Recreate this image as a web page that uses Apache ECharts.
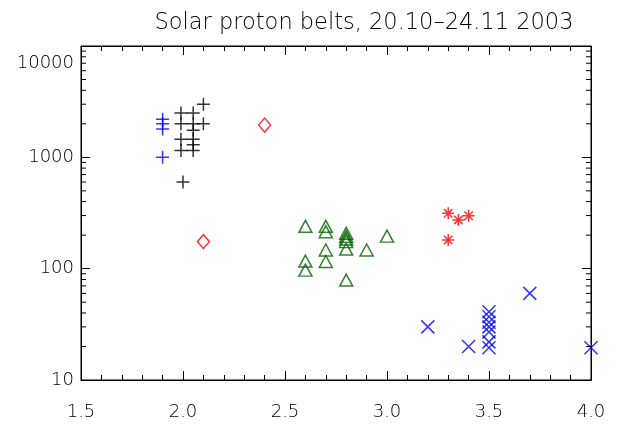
<!DOCTYPE html>
<html>
<head>
<meta charset="utf-8">
<script src="https://cdn.jsdelivr.net/npm/echarts@6/dist/echarts.min.js"></script>
<style>
  html, body { margin: 0; padding: 0; background: #fff; }
  #chart { width: 618px; height: 427px; }
</style>
</head>
<body>
<div id="chart"></div>
<script>
// Proton flux versus L-shell, grouped by belt
const titleText = 'Solar proton belts, 20.10\u201324.11 2003';

const xTicks = [1.5, 2.0, 2.5, 3.0, 3.5, 4.0];
const yTicks = [10, 100, 1000, 10000];

const bluePlusL = [1.9, 1.9, 1.9, 1.9];
const bluePlusFlux = [2200, 2000, 1800, 1000];

const blackPlusL = [1.99, 1.99, 1.99, 1.99, 2.05, 2.05, 2.05, 2.05, 2.05, 2.05, 2.1, 2.1, 2.0];
const blackPlusFlux = [2500, 2000, 1450, 1150, 2500, 2000, 1750, 1450, 1300, 1150, 3000, 2000, 600];

const redDiamondL = [2.4, 2.1];
const redDiamondFlux = [1950, 175];

const greenTriL = [2.6, 2.6, 2.6, 2.7, 2.7, 2.7, 2.7, 2.8, 2.8, 2.8, 2.8, 2.8, 2.8, 2.9, 3.0];
const greenTriFlux = [240, 117, 97, 240, 215, 147, 116, 208, 195, 185, 175, 150, 79, 147, 196];

const redStarL = [3.3, 3.35, 3.4, 3.3];
const redStarFlux = [314, 274, 299, 181];

const blueCrossL = [3.2, 3.4, 3.7, 4.0, 3.5, 3.5, 3.5, 3.5, 3.5, 3.5, 3.5];
const blueCrossFlux = [30, 20, 60, 19.5, 41, 37, 33, 30, 27, 22, 19.5];

const xMin = xTicks[0], xMax = xTicks[xTicks.length - 1];
const yMin = yTicks[0], yMax = yTicks[yTicks.length - 1];

function pairs(xs, ys) { return xs.map((x, i) => [x, ys[i]]); }

// minor ticks of the log axis: 2..9 x each decade
const logMinor = [];
for (let d = yMin; d < yMax; d *= 10) {
  for (let k = 2; k <= 9; k++) logMinor.push([xMin, k * d]);
}

const SYM_PLUS = 'path://M0,5L10,5M5,0L5,10';
const SYM_CROSS = 'path://M0,0L10,10M10,0L0,10';
const SYM_STAR = 'path://M5,0L5,10M0,5L10,5M1.5,1.5L8.5,8.5M8.5,1.5L1.5,8.5';

const FONT = 'DejaVu Sans';

function markStyle(color, w) {
  return { color: 'rgba(0,0,0,0)', borderColor: color, borderWidth: w || 1.5 };
}

function scatter(name, data, symbol, size, color) {
  return {
    name, type: 'scatter', xAxisIndex: 0, yAxisIndex: 0,
    data, symbol, symbolSize: size,
    itemStyle: markStyle(color),
    emphasis: { disabled: true }, silent: true
  };
}

const chart = echarts.init(document.getElementById('chart'), null, { renderer: 'canvas' });

const tickStyle = { color: '#000', width: 1 };

chart.setOption({
  animation: false,
  backgroundColor: '#fff',
  title: {
    text: titleText,
    left: 359, top: 7, textAlign: 'center',
    textStyle: { fontFamily: FONT, fontSize: 22.5, fontWeight: 200, color: '#000' }
  },
  grid: {
    left: 81, right: 27, top: 46, bottom: 47,
    show: true, borderColor: '#000', borderWidth: 1, backgroundColor: 'transparent'
  },
  xAxis: [
    {
      type: 'value', position: 'bottom', min: xMin, max: xMax, interval: 0.5,
      axisLine: { show: true, onZero: false, lineStyle: tickStyle },
      axisTick: { show: true, inside: true, length: 9, lineStyle: tickStyle },
      minorTick: { show: true, splitNumber: 5, length: 5, lineStyle: tickStyle },
      splitLine: { show: false },
      axisLabel: {
        margin: 23, fontFamily: FONT, fontSize: 18, fontWeight: 200, color: '#000',
        formatter: v => v.toFixed(1)
      }
    },
    {
      type: 'value', position: 'top', min: xMin, max: xMax, interval: 0.5,
      axisLine: { show: true, onZero: false, lineStyle: tickStyle },
      axisTick: { show: true, inside: true, length: 9, lineStyle: tickStyle },
      minorTick: { show: true, splitNumber: 5, length: 5, lineStyle: tickStyle },
      splitLine: { show: false },
      axisLabel: { show: false }
    }
  ],
  yAxis: [
    {
      type: 'log', logBase: 10, position: 'left', min: yMin, max: yMax,
      axisLine: { show: true, onZero: false, lineStyle: tickStyle },
      axisTick: { show: true, inside: true, length: 9, lineStyle: tickStyle },
      splitLine: { show: false },
      axisLabel: {
        margin: 7, fontFamily: FONT, fontSize: 18, fontWeight: 200, color: '#000',
        formatter: v => (v >= yMax ? '{top|' + v + '}' : String(v)),
        rich: { top: { fontFamily: FONT, fontSize: 18, fontWeight: 200, color: '#000', padding: [34, 0, 0, 0] } }
      }
    },
    {
      type: 'log', logBase: 10, position: 'right', min: yMin, max: yMax,
      axisLine: { show: true, onZero: false, lineStyle: tickStyle },
      axisTick: { show: true, inside: true, length: 9, lineStyle: tickStyle },
      splitLine: { show: false },
      axisLabel: { show: false }
    }
  ],
  series: [
    {
      type: 'custom', xAxisIndex: 0, yAxisIndex: 0, silent: true, clip: false,
      data: logMinor,
      encode: { x: 0, y: 1 },
      renderItem: function (params, api) {
        const v = api.value(1);
        const l = api.coord([xMin, v]);
        const r = api.coord([xMax, v]);
        const st = { stroke: '#000', lineWidth: 1 };
        return {
          type: 'group',
          children: [
            { type: 'line', shape: { x1: l[0], y1: l[1], x2: l[0] + 5, y2: l[1] }, style: st },
            { type: 'line', shape: { x1: r[0], y1: r[1], x2: r[0] - 5, y2: r[1] }, style: st }
          ]
        };
      }
    },
    scatter('blue plus', pairs(bluePlusL, bluePlusFlux), SYM_PLUS, 13, '#0000ff'),
    scatter('black plus', pairs(blackPlusL, blackPlusFlux), SYM_PLUS, 13, '#000000'),
    scatter('red diamond', pairs(redDiamondL, redDiamondFlux), 'diamond', [12, 14], '#ff0000'),
    scatter('green triangle', pairs(greenTriL, greenTriFlux), 'triangle', [13, 12], '#006400'),
    scatter('red star', pairs(redStarL, redStarFlux), SYM_STAR, 12, '#ff0000'),
    scatter('blue cross', pairs(blueCrossL, blueCrossFlux), SYM_CROSS, 13, '#0000ff')
  ]
});
</script>
</body>
</html>
